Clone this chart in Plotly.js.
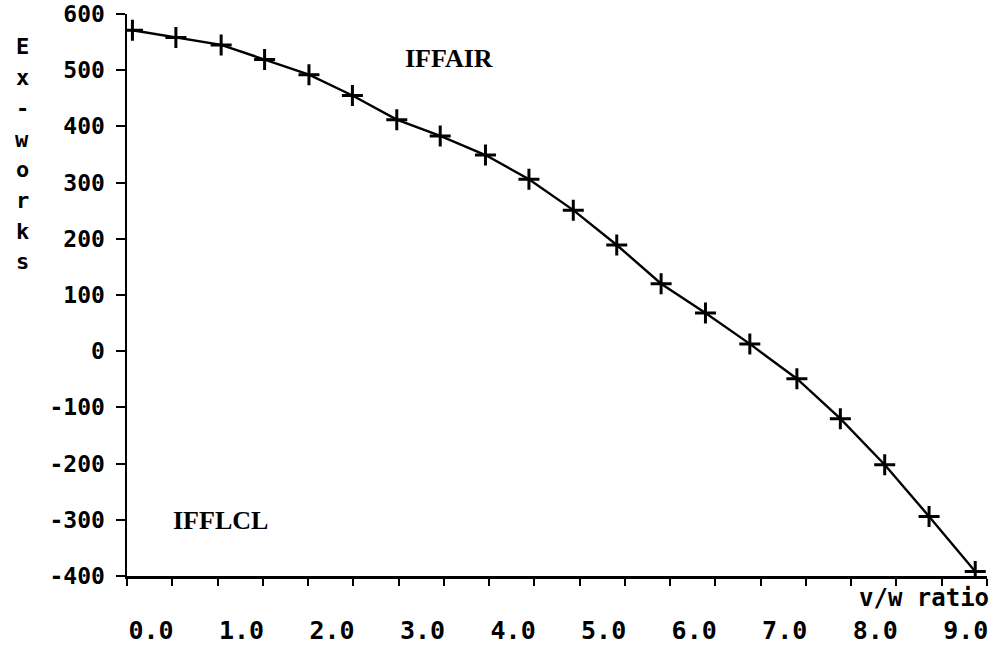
<!DOCTYPE html>
<html><head><meta charset="utf-8">
<script src="https://cdn.plot.ly/plotly-3.0.1.min.js"></script>
<style>html,body{margin:0;padding:0;background:#fff}#chart{width:996px;height:649px}</style>
</head><body><div id="chart"></div>
<script>
// data
const ratio = [0.06, 0.54, 1.04, 1.52, 2.01, 2.49, 2.98, 3.46, 3.96, 4.44, 4.93, 5.41, 5.90, 6.39, 6.88, 7.40, 7.88, 8.37, 8.86, 9.37];
const exWorks = [571, 558, 545, 519, 492, 455, 412, 383, 349, 306, 251, 189, 120, 68, 13, -49, -120, -202, -294, -392];
const xTickVals = [0, 1, 2, 3, 4, 5, 6, 7, 8, 9];
const xTickText = ['0.0', '1.0', '2.0', '3.0', '4.0', '5.0', '6.0', '7.0', '8.0', '9.0'];
const yTickVals = [-400, -300, -200, -100, 0, 100, 200, 300, 400, 500, 600];
const yTickText = ['-400', '-300', '-200', '-100', '0', '100', '200', '300', '400', '500', '600'];
const yTitleLetters = ['E', 'x', '-', 'w', 'o', 'r', 'k', 's'];
const xTitleText = 'v/w ratio';
const curveLabels = ['IFFAIR', 'IFFLCL'];

const mono = 'DejaVu Sans Mono';
const W = 996, H = 649;
const margin = {l: 127, r: 9, t: 14, b: 73};
const plotW = W - margin.l - margin.r, plotH = H - margin.t - margin.b;
const bold = s => '<b>' + s + '</b>';

const annotations = [];
// vertical stacked y title
yTitleLetters.forEach((ch, i) => {
  const py = 47 + i * 30.7;
  annotations.push({
    text: bold(ch), xref: 'paper', yref: 'paper',
    x: (22 - margin.l) / plotW, y: (H - margin.b - py) / plotH,
    xanchor: 'center', yanchor: 'middle', showarrow: false,
    font: {family: mono, size: 22, color: '#000'}
  });
});
// x axis title at right
annotations.push({
  text: bold(xTitleText), xref: 'paper', yref: 'paper',
  x: 1.005, y: -(598 - (H - margin.b)) / plotH, xanchor: 'right', yanchor: 'middle',
  showarrow: false, font: {family: mono, size: 24, color: '#000'}
});
// curve labels
annotations.push({text: bold(curveLabels[0]), x: 3.56, y: 521, xref: 'x', yref: 'y',
  showarrow: false, font: {family: 'Liberation Serif', size: 26, color: '#000'}});
annotations.push({text: bold(curveLabels[1]), x: 1.03, y: -302, xref: 'x', yref: 'y',
  showarrow: false, font: {family: 'Liberation Serif', size: 26, color: '#000'}});

const trace = {
  x: ratio, y: exWorks, type: 'scatter', mode: 'lines+markers',
  line: {color: '#000', width: 2.4},
  marker: {symbol: 'cross-thin', size: 15, color: '#000', line: {color: '#000', width: 3}},
  showlegend: false, hoverinfo: 'skip'
};

const layout = {
  width: W, height: H, margin: margin,
  paper_bgcolor: '#fff', plot_bgcolor: '#fff',
  showlegend: false,
  xaxis: {
    range: [0, 9.5], showgrid: false, zeroline: false,
    showline: true, linecolor: '#000', linewidth: 2.5,
    tickmode: 'array', tickvals: xTickVals, ticktext: xTickText.map(bold),
    ticks: 'outside', ticklen: 7, tickwidth: 2, tickcolor: '#000',
    ticklabelshift: 24, ticklabelstandoff: 23,
    minor: {tickmode: 'linear', tick0: 0, dtick: 0.5, ticks: 'outside', ticklen: 7, tickwidth: 2, tickcolor: '#000', showgrid: false},
    tickfont: {family: mono, size: 25, color: '#000'}
  },
  yaxis: {
    range: [-400, 600], showgrid: false, zeroline: false,
    showline: true, linecolor: '#000', linewidth: 2.5,
    tickmode: 'array', tickvals: yTickVals, ticktext: yTickText.map(bold),
    ticks: 'outside', ticklen: 9, tickwidth: 2, tickcolor: '#000',
    ticklabelstandoff: 6,
    tickfont: {family: mono, size: 23, color: '#000'}
  },
  annotations: annotations
};

Plotly.newPlot('chart', [trace], layout, {staticPlot: true, displayModeBar: false});
</script>
</body></html>
